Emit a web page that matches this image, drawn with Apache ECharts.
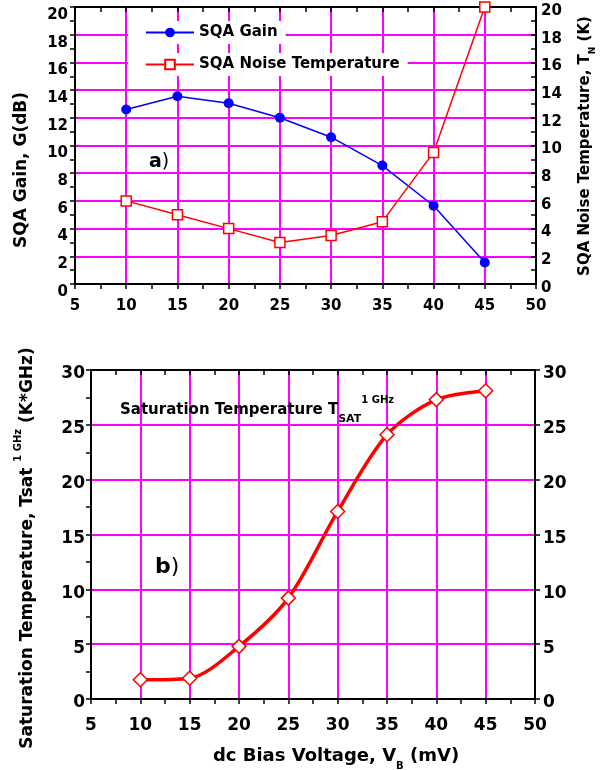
<!DOCTYPE html>
<html>
<head>
<meta charset="utf-8">
<script src="https://cdn.jsdelivr.net/npm/echarts@6/dist/echarts.min.js"></script>
<style>
  html, body { margin: 0; padding: 0; background: #fff; }
  #chart { width: 604px; height: 770px; }
</style>
</head>
<body>
<div id="chart"></div>
<script>
// bias voltage (mV), shared by both panels
const voltage = [10, 15, 20, 25, 30, 35, 40, 45]
// panel a)
const gain = [12.6, 13.55, 13.05, 12.0, 10.6, 8.55, 5.65, 1.55]
const noiseTemp = [6.0, 5.0, 4.0, 3.0, 3.5, 4.5, 9.5, 20.0]
// panel b)
const tsat = [1.75, 1.9, 4.8, 9.2, 17.1, 24.1, 27.3, 28.1]

const FONT = 'DejaVu Sans'
const PINK = '#ff00ff'

const pairs = arr => voltage.map((v, i) => [v, arr[i]])

// one axis of the frame; o picks ticks / labels / grid lines
function axis (o) {
  const size = o.fontSize || 15
  return {
    type: 'value',
    gridIndex: o.grid,
    position: o.pos,
    min: o.min,
    max: o.max,
    interval: o.interval,
    axisLine: { onZero: false, lineStyle: { color: '#000', width: 2 } },
    axisTick: { show: true, inside: !!o.inside, length: 5, lineStyle: { color: '#000', width: 1.5 } },
    minorTick: { show: o.minor !== false, splitNumber: 2, length: 5, lineStyle: { color: '#000', width: 1.5 } },
    axisLabel: {
      show: !!o.labels,
      margin: o.margin || 8,
      showMinLabel: true,
      showMaxLabel: true,
      formatter: '{v|{value}}',
      rich: {
        // top padding pushes the number a little below its tick, like the original
        v: { fontFamily: FONT, fontWeight: 'bold', fontSize: size, color: '#000', padding: [o.drop || 0, 0, 0, 0] }
      }
    },
    splitLine: {
      show: !!o.split,
      showMinLine: false,
      showMaxLine: false,
      lineStyle: { color: PINK, width: 2 }
    }
  }
}

const chart = echarts.init(document.getElementById('chart'), null, { renderer: 'canvas' })

const legendText = { fontFamily: FONT, fontWeight: 'bold', fontSize: 15, color: '#000' }

const option = {
  backgroundColor: '#fff',
  animation: false,
  grid: [
    { left: 75, right: 68, top: 7, height: 277 },
    { left: 91, right: 69, top: 370, height: 329 }
  ],
  xAxis: [
    axis({ grid: 0, pos: 'bottom', min: 5, max: 50, interval: 5, labels: true, split: true, margin: 15 }),
    axis({ grid: 0, pos: 'top', min: 5, max: 50, interval: 5, inside: true }),
    axis({ grid: 1, pos: 'bottom', min: 5, max: 50, interval: 5, labels: true, split: true, margin: 18, fontSize: 17 }),
    axis({ grid: 1, pos: 'top', min: 5, max: 50, interval: 5, inside: true })
  ],
  yAxis: [
    axis({ grid: 0, pos: 'left', min: 0, max: 20, interval: 2, labels: true, split: true, margin: 7, drop: 16 }),
    axis({ grid: 0, pos: 'right', min: 0, max: 20, interval: 2, labels: true, inside: true, margin: 5, drop: 8 }),
    axis({ grid: 1, pos: 'left', min: 0, max: 30, interval: 5, labels: true, split: true, margin: 6, fontSize: 17, drop: 8 }),
    axis({ grid: 1, pos: 'right', min: 0, max: 30, interval: 5, labels: true, minor: false, margin: 8, fontSize: 17, drop: 8 })
  ],
  legend: [
    {
      data: ['SQA Gain'],
      left: 128,
      top: 21,
      padding: [4, 8, 4, 17],
      itemWidth: 48,
      itemHeight: 12,
      backgroundColor: '#fff',
      selectedMode: false,
      textStyle: legendText
    },
    {
      data: ['SQA Noise Temperature'],
      left: 128,
      top: 53,
      padding: [4, 8, 4, 17],
      itemWidth: 48,
      itemHeight: 12,
      backgroundColor: '#fff',
      selectedMode: false,
      textStyle: legendText
    }
  ],
  series: [
    {
      name: 'SQA Gain',
      type: 'line',
      xAxisIndex: 0,
      yAxisIndex: 0,
      data: pairs(gain),
      symbol: 'circle',
      symbolSize: 10,
      lineStyle: { color: '#0000ff', width: 1.5 },
      itemStyle: { color: '#0000ff' },
      z: 5
    },
    {
      name: 'SQA Noise Temperature',
      type: 'line',
      xAxisIndex: 0,
      yAxisIndex: 1,
      data: pairs(noiseTemp),
      symbol: 'rect',
      symbolSize: 10,
      lineStyle: { color: '#ff0000', width: 1.5 },
      itemStyle: { color: '#fff', borderColor: '#ff0000', borderWidth: 1.5 },
      z: 5
    },
    {
      name: 'Saturation Temperature',
      type: 'line',
      xAxisIndex: 2,
      yAxisIndex: 2,
      data: pairs(tsat),
      smooth: 0.3,
      symbol: 'diamond',
      symbolSize: 14,
      lineStyle: { color: '#ff0000', width: 3.5 },
      itemStyle: { color: '#fff', borderColor: '#ff0000', borderWidth: 1.5 },
      z: 5
    }
  ],
  graphic: [
    // axis titles
    {
      type: 'text', x: 22, y: 170, rotation: Math.PI / 2,
      style: { text: 'SQA Gain, G(dB)', fontFamily: FONT, fontWeight: 'bold', fontSize: 17, fill: '#000', align: 'center', verticalAlign: 'middle' }
    },
    {
      type: 'text', x: 585, y: 146, rotation: Math.PI / 2,
      style: {
        text: '{a|SQA Noise Temperature, T}{s|N}{a| (K)}',
        align: 'center',
        verticalAlign: 'middle',
        rich: {
          a: { fontFamily: FONT, fontWeight: 'bold', fontSize: 15, lineHeight: 24, fill: '#000' },
          s: { fontFamily: FONT, fontWeight: 'bold', fontSize: 9, lineHeight: 9, verticalAlign: 'bottom', fill: '#000' }
        }
      }
    },
    {
      type: 'text', x: 28, y: 548, rotation: Math.PI / 2,
      style: {
        text: '{a|Saturation Temperature, Tsat }{s|1 GHz}{a| (K*GHz)}',
        align: 'center',
        verticalAlign: 'middle',
        rich: {
          a: { fontFamily: FONT, fontWeight: 'bold', fontSize: 17, lineHeight: 30, fill: '#000' },
          s: { fontFamily: FONT, fontWeight: 'bold', fontSize: 10, lineHeight: 10, verticalAlign: 'top', fill: '#000' }
        }
      }
    },
    {
      type: 'text', x: 336, y: 756,
      style: {
        text: '{a|dc Bias Voltage, V}{s|B}{a| (mV)}',
        align: 'center',
        verticalAlign: 'middle',
        rich: {
          a: { fontFamily: FONT, fontWeight: 'bold', fontSize: 18, lineHeight: 30, fill: '#000' },
          s: { fontFamily: FONT, fontWeight: 'bold', fontSize: 10, lineHeight: 10, verticalAlign: 'bottom', fill: '#000' }
        }
      }
    },
    // panel tags and note
    {
      type: 'text', x: 149, y: 162, z: 10,
      style: {
        text: '{b|a}{p|)}',
        verticalAlign: 'middle',
        rich: {
          b: { fontFamily: FONT, fontWeight: 'bold', fontSize: 19, fill: '#000' },
          p: { fontFamily: FONT, fontSize: 19, fill: '#000' }
        }
      }
    },
    {
      type: 'text', x: 155, y: 567, z: 10,
      style: {
        text: '{b|b}{p|)}',
        verticalAlign: 'middle',
        rich: {
          b: { fontFamily: FONT, fontWeight: 'bold', fontSize: 22, fill: '#000' },
          p: { fontFamily: FONT, fontSize: 22, fill: '#000' }
        }
      }
    },
    {
      type: 'text', x: 120, y: 410, z: 10,
      style: {
        text: '{t|Saturation Temperature T}{sub|SAT}{sup|1 GHz}',
        verticalAlign: 'middle',
        rich: {
          t: { fontFamily: FONT, fontWeight: 'bold', fontSize: 15, lineHeight: 30, fill: '#000' },
          sub: { fontFamily: FONT, fontWeight: 'bold', fontSize: 11, lineHeight: 12, verticalAlign: 'bottom', fill: '#000' },
          sup: { fontFamily: FONT, fontWeight: 'bold', fontSize: 10, lineHeight: 10, verticalAlign: 'top', fill: '#000' }
        }
      }
    }
  ]
}

chart.setOption(option)
</script>
</body>
</html>
